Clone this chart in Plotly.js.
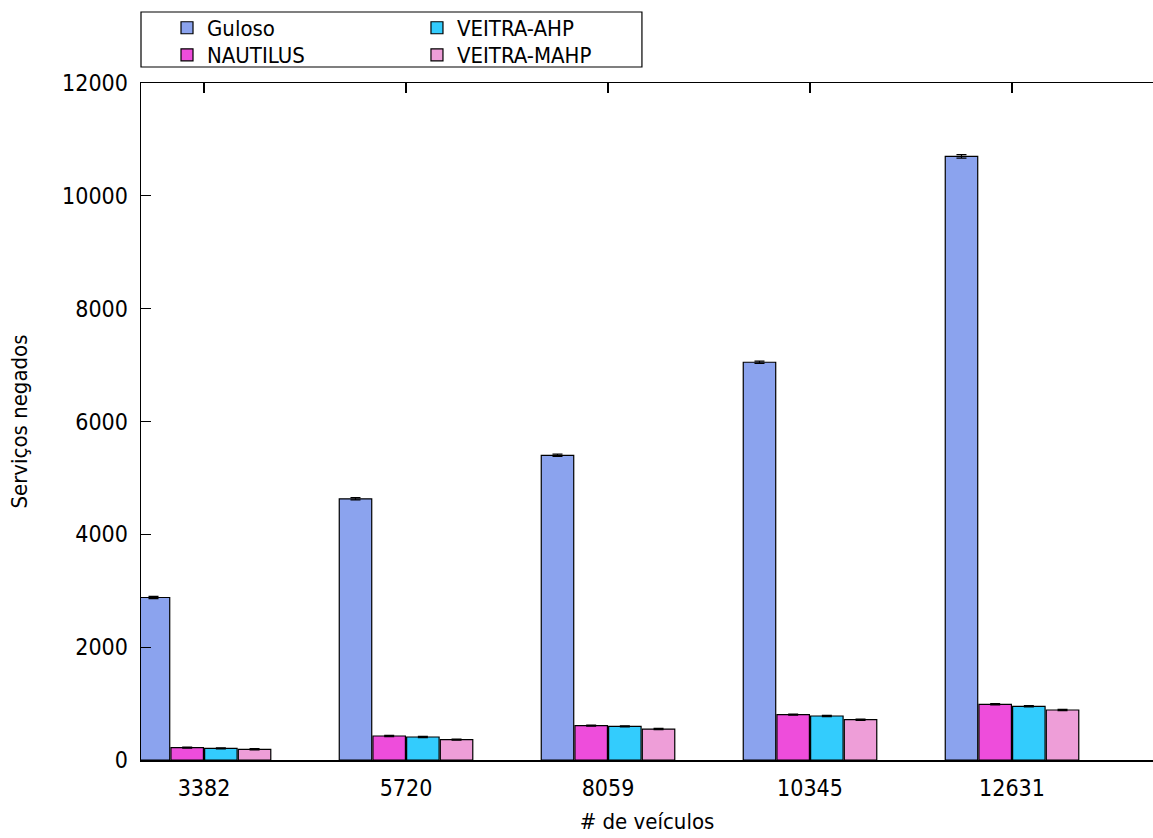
<!DOCTYPE html>
<html>
<head>
<meta charset="utf-8">
<script src="https://cdn.plot.ly/plotly-3.0.1.min.js"></script>
<style>
html, body { margin: 0; padding: 0; overflow: hidden; background: #fff; }
#chart { width: 1153px; height: 838px; }
</style>
</head>
<body>
<div id="chart"></div>
<script>
// Data
const categories = ['3382', '5720', '8059', '10345', '12631'];
const guloso = [2880, 4630, 5400, 7050, 10700];
const nautilus = [218, 425, 608, 803, 987];
const veitraAhp = [207, 408, 597, 780, 951];
const veitraMahp = [190, 360, 549, 714, 886];
const gulosoErr = [20, 20, 20, 20, 30];
const nautilusErr = [10, 10, 10, 10, 12];
const veitraAhpErr = [10, 10, 10, 10, 12];
const veitraMahpErr = [10, 10, 10, 10, 12];
const seriesNames = ['Guloso', 'NAUTILUS', 'VEITRA-AHP', 'VEITRA-MAHP'];
const seriesColors = ['#8ba3ee', '#ee4ddb', '#33ccfd', '#ee9ed8'];
const yTicks = [0, 2000, 4000, 6000, 8000, 10000, 12000];

const FONT = 'DejaVu Sans Condensed, DejaVu Sans, sans-serif';
const seriesValues = [guloso, nautilus, veitraAhp, veitraMahp];
const seriesErrors = [gulosoErr, nautilusErr, veitraAhpErr, veitraMahpErr];
const legendIds = ['legend', 'legend2', 'legend3', 'legend4'];

const traces = seriesNames.map((name, i) => ({
  type: 'bar',
  name: name,
  x: categories,
  y: seriesValues[i],
  legend: legendIds[i],
  marker: { color: seriesColors[i], line: { color: '#000', width: 1.2 } },
  error_y: { type: 'data', array: seriesErrors[i], visible: true, color: '#000', thickness: 1.2, width: 5 }
}));

const legendCommon = {
  orientation: 'v',
  font: { family: FONT, size: 22, color: '#000' },
  bgcolor: 'rgba(0,0,0,0)',
  borderwidth: 0,
  xanchor: 'left',
  yanchor: 'top'
};
const colX = [0.0257, 0.2727];
const rowY = [1.1123, 1.0724];

const layout = {
  width: 1153,
  height: 838,
  margin: { l: 141, r: 0, t: 83, b: 78 },
  paper_bgcolor: '#fff',
  plot_bgcolor: '#fff',
  font: { family: FONT, size: 23, color: '#000' },
  barmode: 'group',
  bargap: 0.333,
  bargroupgap: 0.036,
  showlegend: true,
  legend: Object.assign({}, legendCommon, { x: colX[0], y: rowY[0] }),
  legend2: Object.assign({}, legendCommon, { x: colX[0], y: rowY[1] }),
  legend3: Object.assign({}, legendCommon, { x: colX[1], y: rowY[0] }),
  legend4: Object.assign({}, legendCommon, { x: colX[1], y: rowY[1] }),
  xaxis: {
    type: 'category',
    range: [-0.312, 4.698],
    showline: true, linecolor: '#000', linewidth: 1.5, mirror: 'ticks',
    ticks: 'inside', ticklen: 10, tickwidth: 1.2, tickcolor: '#000',
    showgrid: false, zeroline: false,
    ticklabelstandoff: 7,
    tickfont: { family: FONT, size: 23, color: '#000' },
    title: { text: '# de veículos', font: { family: FONT, size: 22, color: '#000' }, standoff: 13 },
    automargin: false
  },
  yaxis: {
    range: [0, 12000],
    tickvals: yTicks,
    ticktext: yTicks.map(String),
    showline: true, linecolor: '#000', linewidth: 1.5, mirror: false,
    ticks: 'inside', ticklen: 10, tickwidth: 1.2, tickcolor: '#000',
    showgrid: false, zeroline: false,
    ticklabelstandoff: 7,
    tickfont: { family: FONT, size: 23, color: '#000' },
    title: { text: 'Serviços negados', font: { family: FONT, size: 22, color: '#000' }, standoff: 28 },
    automargin: false
  },
  shapes: [{
    type: 'rect', xref: 'paper', yref: 'paper',
    x0: 0, x1: 0.495, y0: 1.0236, y1: 1.1049,
    line: { color: '#000', width: 1.2 }, fillcolor: 'rgba(0,0,0,0)'
  }]
};

Plotly.newPlot('chart', traces, layout, { displayModeBar: false, staticPlot: true });
</script>
</body>
</html>
